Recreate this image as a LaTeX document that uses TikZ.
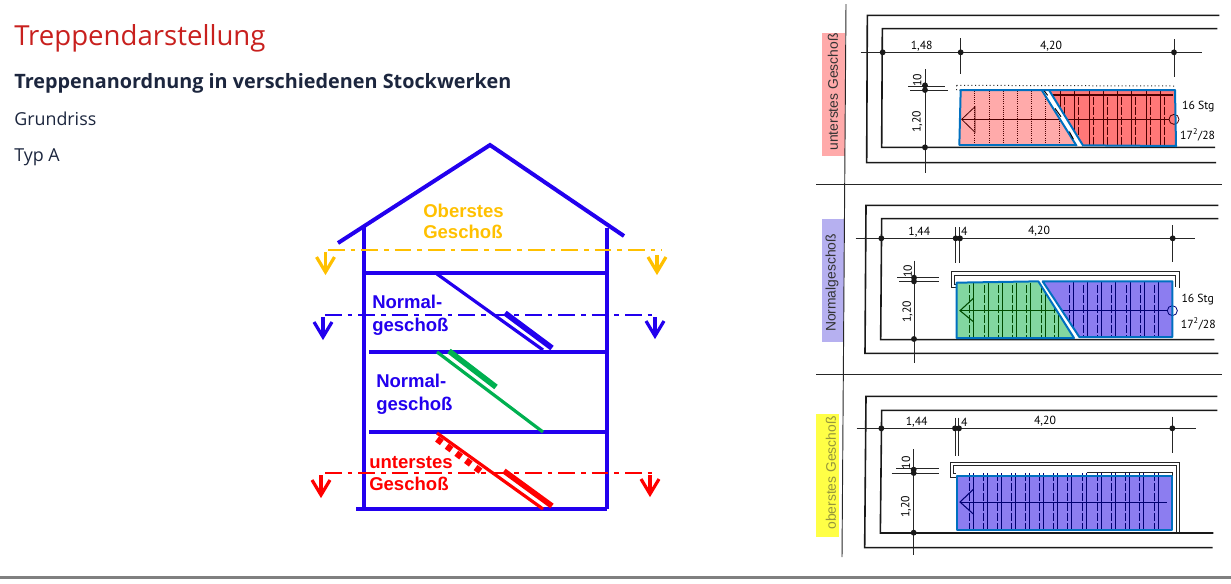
\documentclass[tikz,border=0pt]{standalone}
\usepackage{fontspec}
\setmainfont{Open Sans}
\newfontfamily\arialf{Liberation Sans}
\newfontfamily\dimf{PT Sans}
\definecolor{hblue}{RGB}{34,0,238}
\definecolor{horange}{RGB}{255,192,0}
\definecolor{hred}{RGB}{255,0,0}
\definecolor{hgreen}{RGB}{0,176,80}
\definecolor{titlered}{RGB}{200,32,30}
\definecolor{inktext}{RGB}{28,38,62}
\definecolor{outl}{RGB}{0,112,192}
\definecolor{fpink}{RGB}{255,170,170}
\definecolor{fred}{RGB}{255,120,120}
\definecolor{fgreen}{RGB}{130,215,160}
\definecolor{fpurple}{RGB}{140,125,240}
\definecolor{lpurple}{RGB}{182,176,240}
\definecolor{lyellow}{RGB}{255,255,70}
\definecolor{ltext}{RGB}{150,150,60}
\tikzset{
  ttl/.style={anchor=base west,inner sep=0,text=titlered,font=\fontsize{20.7}{24}\selectfont},
  sub/.style={anchor=base west,inner sep=0,text=inktext,font=\bfseries\fontsize{14.86}{18}\selectfont},
  body/.style={anchor=base west,inner sep=0,text=inktext,font=\fontsize{13.4}{16}\selectfont},
  hlabel/.style={anchor=base west,inner sep=0,font=\arialf\bfseries\fontsize{13.9}{15}\selectfont},
  wall/.style={hblue,line width=3pt},
  sect/.style={line width=1.8pt,dash pattern=on 12.5pt off 4.5pt on 3.5pt off 4.5pt},
  barb/.style={line width=2.4pt,miter limit=3},
  plan/.style={black!90,line width=1.2pt},
  thinp/.style={black!85,line width=.75pt},
  dimt/.style={inner sep=0,text=black,font=\dimf\fontsize{8.8}{10}\selectfont},
  vlab/.style={inner sep=0,rotate=90,font=\arialf\fontsize{10.4}{12}\selectfont},
  stairo/.style={draw=outl,line width=1.5pt,line join=round},
  treadr/.style={black!70!red,line width=.6pt},
  treadb/.style={blue!45!black,line width=.6pt},
  treadg/.style={green!30!black,line width=.6pt},
  dashtr/.style={dash pattern=on 6pt off 1.5pt},
  dot/.style={circle,fill=black!90,inner sep=0,minimum size=4.4pt}
}
\newcommand{\secarrow}[4]{% colour, x, ytop, ytip
  \draw[barb,#1] (#2,#3) -- (#2,#4);
  \draw[barb,#1] (#2-9,#4-15) -- (#2,#4) -- (#2+9,#4-15);}
\begin{document}
\begin{tikzpicture}[x=.75pt,y=-.75pt]
\useasboundingbox (0,0) rectangle (1231,583);
% texts
\node[ttl] (title) at (14,45) {Treppendarstellung};
\node[sub] (subh) at (14,88) {Treppenanordnung in verschiedenen Stockwerken};
\node[body] (gr) at (14,125) {Grundriss};
\node[body] (typ) at (14,161) {Typ A};
\fill[black!50] (0,576) rectangle (1231,579);
% house
\draw[wall] (338,243) -- (490,145) -- (624,236);
\draw[wall] (364,226) -- (364,510);
\draw[wall] (607,228) -- (607,509);
\draw[wall] (365,273) -- (607,273);
\draw[wall] (369,352) -- (607,352);
\draw[wall] (369,432) -- (607,432);
\draw[wall] (356,509) -- (607,509);
% stairs
\draw[hblue,line width=2.4pt] (437,274) -- (543,350);
\draw[hblue,line width=4.2pt] (505,313) -- (552,348);
\draw[hgreen,line width=2.4pt] (437,352) -- (543,432);
\draw[hgreen,line width=4.2pt] (449,351) -- (496,387);
\draw[hred,line width=2.4pt] (437,433) -- (543,509);
\draw[hred,line width=4.2pt] (504,471) -- (552,506);
\draw[hred,line width=4.8pt,dash pattern=on 4.5pt off 4.5pt] (437,439) -- (483,473);
% sections
\draw[sect,horange] (328,250) -- (662,250);
\draw[sect,hblue] (325,315) -- (658,315);
\draw[sect,hred] (325,473) -- (655,473);
\secarrow{horange}{325.5}{252}{272}
\secarrow{horange}{657}{255}{272}
\secarrow{hblue}{323}{317}{337}
\secarrow{hblue}{655}{317}{336}
\secarrow{hred}{321}{475}{495}
\secarrow{hred}{650}{475}{494}
% house labels
\node[hlabel,text=horange] (l1) at (423,217) {Oberstes};
\node[hlabel,text=horange] (l2) at (423,238) {Geschoß};
\node[hlabel,text=hblue] (l3) at (372,308) {Normal-};
\node[hlabel,text=hblue] (l4) at (372,331) {geschoß};
\node[hlabel,text=hblue] (l5) at (376,387) {Normal-};
\node[hlabel,text=hblue] (l6) at (376,410) {geschoß};
\node[hlabel,text=hred] (l7) at (369,468) {unterstes};
\node[hlabel,text=hred] (l8) at (369,490) {Geschoß};
% separators
\fill[fpink] (822,33) rectangle (845,156);
\fill[lpurple] (822,219) rectangle (844,342);
\fill[lyellow] (816,414) rectangle (839,537);
\draw[thinp,line width=.7pt] (846,4) -- (842,557);
\draw[thinp,line width=.7pt] (816,184) -- (1222,184);
\draw[thinp,line width=.7pt] (816,374) -- (1222,374);
\node[vlab,text=black!80] (v1) at (833,92) {unterstes Geschoß};
\node[vlab,text=black!80] (v2) at (832,283) {Normalgeschoß};
\node[vlab,text=ltext] (v3) at (831,473) {oberstes Geschoß};
% plan 1
\begin{scope}[shift={(810,0)},x=.25pt,y=-.25pt]
\draw[plan] (1228,46) -- (172,46) -- (170,488) -- (1218,488);
\draw[plan] (1222,86) -- (217,86) -- (215,442) -- (1215,442);
\draw[thinp] (152,157) -- (1175,157);
\draw[thinp] (452,115) -- (452,223) (1092,118) -- (1092,230);
\draw[thinp] (345,207) -- (345,520) (295,258) -- (405,258) (300,270) -- (413,270);
\draw[thinp,dotted] (440,256) -- (1095,258) (440,256) -- (440,270) -- (452,270);
\foreach \p in {(218,157),(452,157),(1092,157),(345,256),(345,270),(345,442)} \node[dot] at \p {};
\fill[fpink] (452,270) -- (695,270) -- (800,438) -- (448,436) -- cycle;
\fill[fred] (717,270) -- (1095,270) -- (1098,438) -- (820,438) -- cycle;
\begin{scope}
\clip (452,270) -- (695,270) -- (800,438) -- (448,436) -- cycle;
\foreach \x in {494,537,579,621,664,706,748} \draw[treadr,densely dotted] (\x,272) -- (\x,434);
\draw[treadr] (455,358) -- (760,358);
\end{scope}
\begin{scope}
\clip (717,270) -- (1095,270) -- (1098,438) -- (820,438) -- cycle;
\foreach \x in {752,794,838,880,922,964,1008,1050} {
  \draw[treadr] (\x,272) -- (\x,436);
  \draw[treadr,dashtr] (\x+12,290) -- (\x+12,434);}
\draw[treadr,line width=1pt] (718,285) -- (1090,285);
\draw[treadr] (700,358) -- (1078,358);
\end{scope}
\draw[treadr] (495,320) -- (455,358) -- (495,397) -- cycle;
\draw[treadr] (1092,358) circle (15);
\draw[stairo] (695,270) -- (800,438);
\draw[stairo] (717,270) -- (820,438);
\draw[stairo] (448,436) -- (452,270) -- (1095,270) -- (1098,438) -- (820,436);
\draw[stairo] (448,436) -- (800,436);
\draw[black,line width=.7pt] (703,273) -- (713,286) (735,325) -- (753,350) (778,395) -- (790,417);
\node[dimt] (a1) at (335,140) {1,48};
\node[dimt] (a2) at (723,140) {4,20};
\node[dimt,rotate=90] (a3) at (322,240) {10};
\node[dimt,rotate=90] (a4) at (322,365) {1,20};
\node[dimt] (a5) at (1165,320) {16 Stg};
\node[dimt] (a6) at (1163,405) {17\textsuperscript{2}/28};
\end{scope}
% plan 2
\begin{scope}[shift={(810,190)},x=.25pt,y=-.25pt]
\draw[plan] (1225,46) -- (168,46) -- (165,490) -- (1225,490);
\draw[plan] (1225,86) -- (215,86) -- (212,449) -- (1213,449);
\draw[thinp] (137,145) -- (1155,145);
\draw[thinp] (437,112) -- (437,218) (447,112) -- (447,218) (1088,105) -- (1088,217);
\draw[thinp] (312,212) -- (312,520) (262,263) -- (388,263) (268,274) -- (388,274);
\foreach \p in {(214,145),(437,145),(450,145),(1088,145),(312,263),(312,274),(312,447)} \node[dot] at \p {};
\draw[thinp] (440,293) -- (423,293) -- (423,245) -- (1107,245) -- (1107,293);
\draw[thinp] (440,282) -- (433,282) -- (433,255) -- (1097,255) -- (1097,290);
\fill[fgreen] (440,278) -- (685,274) -- (792,444) -- (440,444) -- cycle;
\fill[fpurple] (698,274) -- (1087,274) -- (1087,441) -- (808,441) -- cycle;
\begin{scope}
\clip (440,278) -- (685,274) -- (792,444) -- (440,444) -- cycle;
\foreach \x in {490,535,578,620,660,705,745} {
  \draw[treadg] (\x,278) -- (\x,444);
  \draw[treadg,dashtr] (\x-12,285) -- (\x-12,440);}
\draw[treadg] (450,362) -- (760,362);
\end{scope}
\begin{scope}
\clip (698,274) -- (1087,274) -- (1087,441) -- (808,441) -- cycle;
\foreach \x in {790,833,875,917,960,1003,1045} {
  \draw[treadb] (\x,274) -- (\x,441);
  \draw[treadb,dashtr] (\x-12,285) -- (\x-12,438);}
\draw[treadb] (700,362) -- (1072,362);
\end{scope}
\draw[treadg,line width=.8pt] (490,325) -- (450,362) -- (490,395);
\draw[treadb] (1087,362) circle (15);
\draw[stairo] (440,278) -- (685,274) -- (792,444) -- (440,444) -- cycle;
\draw[stairo] (698,274) -- (1087,274) -- (1087,441) -- (808,441) -- cycle;
\node[dimt] (b1) at (328,127) {1,44};
\node[dimt] (b2) at (463,125) {4};
\node[dimt] (b3) at (687,125) {4,20};
\node[dimt,rotate=90] (b4) at (293,243) {10};
\node[dimt,rotate=90] (b5) at (293,365) {1,20};
\node[dimt] (b6) at (1163,328) {16 Stg};
\node[dimt] (b7) at (1165,403) {17\textsuperscript{2}/28};
\end{scope}
% plan 3
\begin{scope}[shift={(810,375)},x=.25pt,y=-.25pt]
\draw[plan] (1222,64) -- (168,64) -- (164,518) -- (1208,518);
\draw[plan] (1222,106) -- (215,106) -- (211,474) -- (1210,474);
\draw[thinp] (140,160) -- (1158,160);
\draw[thinp] (435,128) -- (435,242) (445,128) -- (445,242) (1087,125) -- (1087,235);
\draw[thinp] (311,222) -- (311,540) (258,281) -- (388,281) (245,294) -- (388,294);
\foreach \p in {(214,160),(435,160),(447,160),(1087,160),(311,284),(311,294),(311,473)} \node[dot] at \p {};
\draw[thinp] (438,308) -- (420,308) -- (420,262) -- (1108,262) -- (1108,472);
\draw[thinp] (438,296) -- (430,296) -- (430,272) -- (1098,272) -- (1098,472);
\draw[thinp] (830,292) -- (1088,292) -- (1088,302);
\fill[fpurple] (440,302) rectangle (1085,466);
\foreach \x in {490,533,575,617,659,701,743,785,829,873,915,957,1001,1045} {
  \draw[treadb] (\x,295) -- (\x,466);
  \draw[treadb,dashtr] (\x-12,295) -- (\x-12,466);}
\draw[treadb] (450,381) -- (1070,381);
\draw[treadb,line width=.8pt] (490,343) -- (450,381) -- (490,417);
\draw[stairo] (440,302) rectangle (1085,466);
\node[dimt] (c1) at (320,143) {1,44};
\node[dimt] (c2) at (463,142) {4};
\node[dimt] (c3) at (705,140) {4,20};
\node[dimt,rotate=90] (c4) at (288,263) {10};
\node[dimt,rotate=90] (c5) at (288,395) {1,20};
\end{scope}
\end{tikzpicture}
\end{document}
